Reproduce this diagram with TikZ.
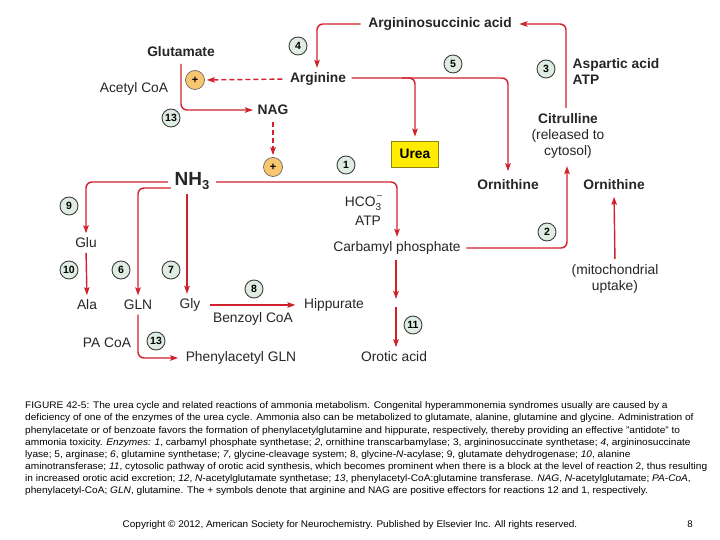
\documentclass[tikz,border=0pt]{standalone}
\usepackage{fontspec}
\setmainfont{Liberation Sans}
\usetikzlibrary{arrows.meta,calc}
\definecolor{rd}{RGB}{208,34,44}
\definecolor{numfill}{RGB}{222,236,226}
\definecolor{plusfill}{RGB}{246,198,112}
\definecolor{ureafill}{RGB}{255,236,0}
\definecolor{ureadraw}{RGB}{140,130,20}
\tikzset{
  lab/.style={font=\fontsize{13.8}{16}\selectfont, inner sep=1.5pt, text=black!85},
  bl/.style={lab, font=\bfseries\fontsize{13.8}{16}\selectfont},
  num/.style={circle, draw=black!75, fill=numfill, line width=0.9pt, minimum size=18pt, inner sep=0pt, font=\bfseries\fontsize{10.5}{10.5}\selectfont},
  plus/.style={circle, draw=black!65, fill=plusfill, line width=0.6pt, minimum size=19pt, inner sep=0pt, font=\bfseries\fontsize{11}{11}\selectfont},
  arr/.style={draw=rd, line width=1.4pt, rounded corners=6pt, -{Stealth[length=8pt,width=5.5pt,inset=1.5pt]}},
  darr/.style={arr, dash pattern=on 5pt off 3pt},
  urea/.style={draw=ureadraw, fill=ureafill, line width=0.8pt, minimum width=47pt, minimum height=26pt, inner sep=0pt, font=\bfseries\fontsize{13.8}{16}\selectfont},
  captext/.style={inner sep=0pt, font=\fontsize{9.6}{12.15}\selectfont}
}
\begin{document}
\begin{tikzpicture}[x=1pt,y=-1pt]
\path[use as bounding box, fill=white] (0,0) rectangle (720,540);
% labels
\node[bl] (asa) at (440,24) {Argininosuccinic acid};
\node[bl] (glu) at (181,52) {Glutamate};
\node[lab] (acoa) at (134,89) {Acetyl CoA};
\node[plus] (p1) at (195,80) {+};
\node[bl] (arg) at (318,79) {Arginine};
\node[bl] (nag) at (273,110) {NAG};
\node[plus] (p2) at (273,167) {+};
\node[bl, font=\bfseries\fontsize{19}{20}\selectfont] (nh3) at (192,181) {NH\raisebox{-0.35ex}{\fontsize{13}{13}\selectfont 3}};
\node[urea] (ur) at (415,154) {Urea};
\node[lab, align=center] (cit) at (568,136) {\textbf{Citrulline}\\(released to\\cytosol)};
\node[bl] (orn1) at (508,185) {Ornithine};
\node[bl] (orn2) at (614,185) {Ornithine};
\node[lab, align=center] (mito) at (615,279) {(mitochondrial\\uptake)};
\node[bl, anchor=west] (asp) at (571,65) {Aspartic acid};
\node[bl, anchor=west] (atp2) at (571,80) {ATP};
\node[lab] (hco) at (363,203) {HCO\rlap{\raisebox{1.1ex}{\fontsize{9}{9}\selectfont\,–}}\raisebox{-0.5ex}{\fontsize{10}{10}\selectfont 3}};
\node[lab] (atp1) at (368,221) {ATP};
\node[lab] (cp) at (397,248) {Carbamyl phosphate};
\node[lab] (gluu) at (86,243) {Glu};
\node[lab] (ala) at (87,305) {Ala};
\node[lab] (gln) at (138,305) {GLN};
\node[lab] (gly) at (190,305) {Gly};
\node[lab] (hip) at (334,305) {Hippurate};
\node[lab] (bcoa) at (253,319) {Benzoyl CoA};
\node[lab] (pacoa) at (107,343) {PA CoA};
\node[lab] (pgln) at (241,358) {Phenylacetyl GLN};
\node[lab] (oro) at (394,357) {Orotic acid};
% enzyme numbers
\node[num] (n4) at (298,46) {4};
\node[num] (n5) at (453,64) {5};
\node[num] (n3) at (546,69) {3};
\node[num] (n13a) at (171,118) {13};
\node[num] (n1) at (346,165) {1};
\node[num] (n2) at (547,232) {2};
\node[num] (n9) at (69,206) {9};
\node[num] (n10) at (69,270) {10};
\node[num] (n6) at (121,270) {6};
\node[num] (n7) at (171,270) {7};
\node[num] (n8) at (254,289) {8};
\node[num] (n11) at (413,325) {11};
\node[num] (n13b) at (156,341) {13};
% gap coordinates
\coordinate (gapA) at (396,299);
\coordinate (gapB) at (396,307);
% connectors
\draw[arr, shorten <=6pt, shorten >=3pt] (asa.west) -| ([xshift=-1pt]arg.north);
\draw[arr, shorten <=4pt, shorten >=7pt] ([yshift=1pt]arg.east) -| (orn1.north);
\draw[arr, shorten >=4pt] ([yshift=1pt]arg.east -| 402,0) -| (ur.north);
\draw[darr, shorten <=6pt, shorten >=2pt] (arg.west) -- (p1.east);
\draw[arr, shorten <=5pt, shorten >=3pt] (glu.south) |- (nag.west);
\draw[darr, shorten <=5pt, shorten >=2pt] (nag.south) -- (p2.north);
\draw[arr, shorten <=5pt, shorten >=3pt] ([yshift=-1pt]nh3.east) -| (cp.north);
\draw[arr, shorten <=5pt, shorten >=3pt] ([yshift=-1pt]nh3.west) -| (gluu.north);
\draw[arr, shorten <=2pt, shorten >=3pt] ([yshift=-7pt]nh3.west) -| (gln.north);
\draw[arr, shorten <=3pt, shorten >=3pt] ([xshift=-3pt]gly.north |- nh3.south) -- ([xshift=-3pt]gly.north);
\draw[arr, shorten <=3pt, shorten >=3pt] (gluu.south) -- (ala.north);
\draw[arr, shorten <=8pt, shorten >=7pt] (gly.east) -- (hip.west);
\draw[arr, shorten <=3pt, shorten >=6pt] (gln.south) |- (pgln.west);
\draw[arr, shorten <=4pt] ([xshift=-1pt]cp.south) -- (gapA);
\draw[arr, shorten >=3pt] (gapB) -- ([xshift=2pt]oro.north);
\draw[arr, shorten <=4pt, shorten >=6pt] (cp.east) -| ([xshift=-1pt]cit.south);
\draw[arr, shorten <=4pt, shorten >=6pt] ([xshift=-2pt]cit.north) |- (asa.east);
\draw[arr, shorten <=4pt, shorten >=5pt] (mito.north) -- (orn2.south);
% caption
\node[captext, anchor=north west] (cap) at (25,400) {\scalebox{1.055}[1]{\begin{tabular}[t]{@{}l@{}}FIGURE 42-5: The urea cycle and related reactions of ammonia metabolism. Congenital hyperammonemia syndromes usually are caused by a\\
deficiency of one of the enzymes of the urea cycle. Ammonia also can be metabolized to glutamate, alanine, glutamine and glycine. Administration of\\
phenylacetate or of benzoate favors the formation of phenylacetylglutamine and hippurate, respectively, thereby providing an effective "antidote" to\\
ammonia toxicity. \textit{Enzymes: 1}, carbamyl phosphate synthetase; \textit{2}, ornithine transcarbamylase; 3, argininosuccinate synthetase; \textit{4}, argininosuccinate\\
lyase; 5, arginase; \textit{6}, glutamine synthetase; \textit{7}, glycine-cleavage system; 8, glycine-\textit{N}-acylase; 9, glutamate dehydrogenase; \textit{10}, alanine\\
aminotransferase; \textit{11}, cytosolic pathway of orotic acid synthesis, which becomes prominent when there is a block at the level of reaction 2, thus resulting\\
in increased orotic acid excretion; \textit{12}, \textit{N}-acetylglutamate synthetase; \textit{13}, phenylacetyl-CoA:glutamine transferase. \textit{NAG}, \textit{N}-acetylglutamate; \textit{PA-CoA},\\
phenylacetyl-CoA; \textit{GLN}, glutamine. The + symbols denote that arginine and NAG are positive effectors for reactions 12 and 1, respectively.\end{tabular}}};
\node[captext] (copy) at (350,525) {\scalebox{1.04}[1]{Copyright © 2012, American Society for Neurochemistry. Published by Elsevier Inc. All rights reserved.}};
\node[captext] (page) at (690,524) {8};
\end{tikzpicture}
\end{document}
